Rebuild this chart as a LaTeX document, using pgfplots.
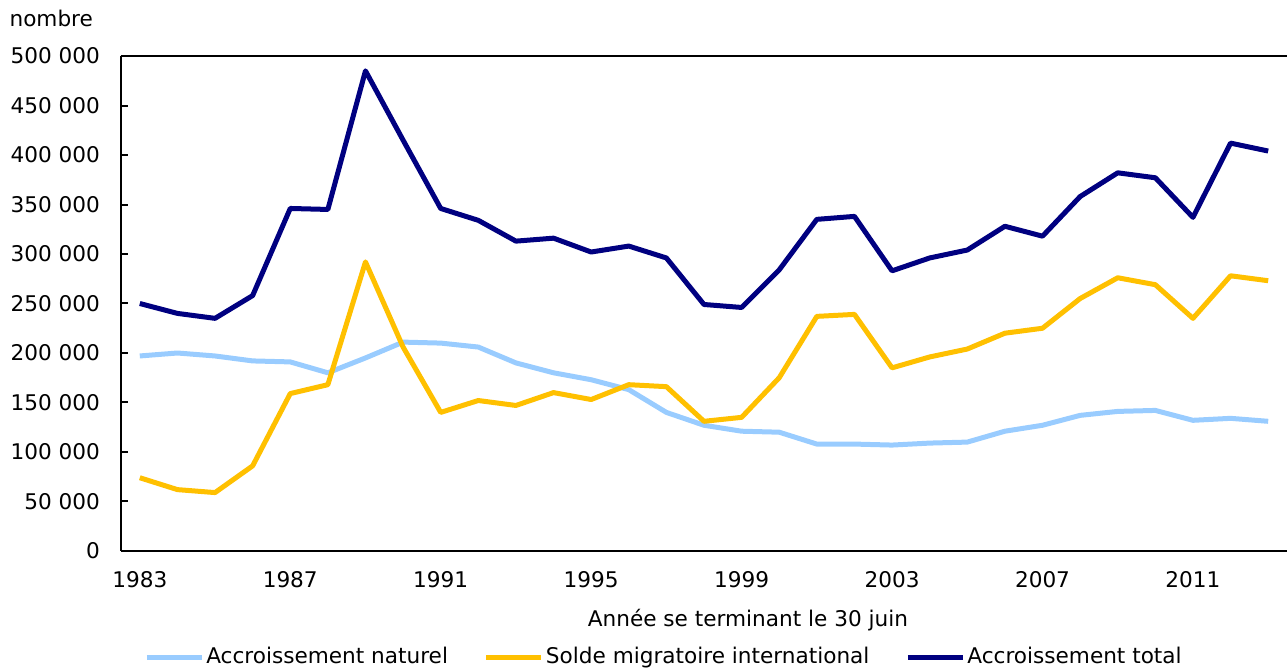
\documentclass[border=0pt]{standalone}
\usepackage{pgfplots}
\pgfplotsset{compat=1.18}
\usepackage{fontspec}
\setmainfont{DejaVu Sans}
\definecolor{natc}{HTML}{99CCFF}
\definecolor{migc}{HTML}{FFC000}
\definecolor{totc}{HTML}{000080}
\begin{document}
\begin{tikzpicture}[font=\fontsize{10.8pt}{12pt}\selectfont]
\begin{axis}[
  at={(0,0)}, anchor=origin,
  scale only axis, width=583pt, height=247.5pt,
  xmin=1982.5, xmax=2013.5, ymin=0, ymax=500000,
  scaled y ticks=false,
  axis lines*=left,
  axis line style={line width=1pt},
  xtick={1983,1987,1991,1995,1999,2003,2007,2011},
  xticklabels={1983,1987,1991,1995,1999,2003,2007,2011},
  ytick={0,50000,100000,150000,200000,250000,300000,350000,400000,450000,500000},
  yticklabels={0,50 000,100 000,150 000,200 000,250 000,300 000,350 000,400 000,450 000,500 000},
  tick align=inside,
  major tick length=3.5pt,
  ytick style={line width=1pt, black},
  xtick style={draw=none},
  yticklabel style={anchor=east, xshift=-7pt},
  xticklabel style={anchor=center, yshift=-14.5pt},
  tick label style={font=\fontsize{10.8pt}{12pt}\selectfont},
  clip=false,
  legend columns=3,
  legend style={draw=none, fill=none, at={(0.4657,0)}, anchor=center, yshift=-53pt,
    font=\fontsize{10.8pt}{12pt}\selectfont,
    /tikz/every even column/.append style={column sep=17pt},
    inner sep=0pt, nodes={inner sep=1pt}},
  legend image code/.code={\draw[#1, line width=2.5pt] (0pt,0pt) -- (27.5pt,0pt);},
]
\draw[black, line width=0.7pt] (rel axis cs:0,1) -- (rel axis cs:1,1);
\addplot[natc, line width=2.5pt, line join=round] coordinates {
(1983,197000)(1984,200000)(1985,197000)(1986,192000)(1987,191000)(1988,180000)
(1989,195000)(1990,211000)(1991,210000)(1992,206000)(1993,190000)(1994,180000)
(1995,173000)(1996,163000)(1997,140000)(1998,127000)(1999,121000)(2000,120000)
(2001,108000)(2002,108000)(2003,107000)(2004,109000)(2005,110000)(2006,121000)
(2007,127000)(2008,137000)(2009,141000)(2010,142000)(2011,132000)(2012,134000)(2013,131000)};
\addlegendentry{Accroissement naturel}
\addplot[migc, line width=2.5pt, line join=round] coordinates {
(1983,74000)(1984,62000)(1985,59000)(1986,86000)(1987,159000)(1988,168000)
(1989,292000)(1990,206000)(1991,140000)(1992,152000)(1993,147000)(1994,160000)
(1995,153000)(1996,168000)(1997,166000)(1998,131000)(1999,135000)(2000,175000)
(2001,237000)(2002,239000)(2003,185000)(2004,196000)(2005,204000)(2006,220000)
(2007,225000)(2008,255000)(2009,276000)(2010,269000)(2011,235000)(2012,278000)(2013,273000)};
\addlegendentry{Solde migratoire international}
\addplot[totc, line width=2.5pt, line join=round] coordinates {
(1983,250000)(1984,240000)(1985,235000)(1986,258000)(1987,346000)(1988,345000)
(1989,485000)(1990,415000)(1991,346000)(1992,334000)(1993,313000)(1994,316000)
(1995,302000)(1996,308000)(1997,296000)(1998,249000)(1999,246000)(2000,284000)
(2001,335000)(2002,338000)(2003,283000)(2004,296000)(2005,304000)(2006,328000)
(2007,318000)(2008,358000)(2009,382000)(2010,377000)(2011,337000)(2012,412000)(2013,404000)};
\addlegendentry{Accroissement total}
\node at (rel axis cs:0.5377,0) [yshift=-34.5pt] {Année se terminant le 30 juin};
\node at (rel axis cs:0,1) [anchor=east, xshift=-10.5pt, yshift=19pt] {nombre};
\end{axis}
\pgfresetboundingbox
\useasboundingbox (-60.5pt,-59pt) rectangle (583pt,275.5pt);
\end{tikzpicture}
\end{document}
